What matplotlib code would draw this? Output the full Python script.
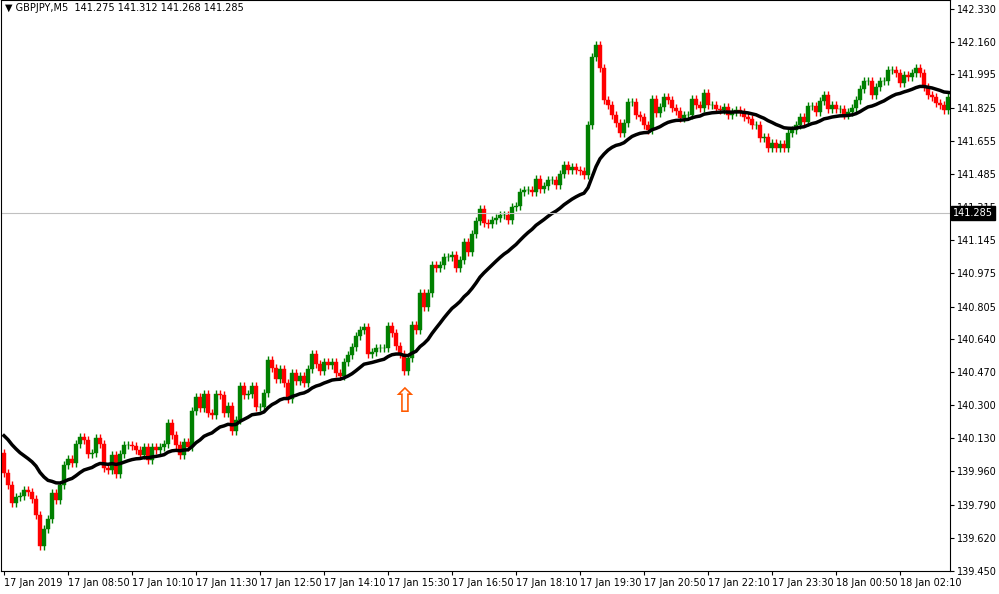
import numpy as np
import matplotlib
matplotlib.use("Agg")
import matplotlib.pyplot as plt
from matplotlib.patches import Rectangle

# GBPJPY M5 closes
closes = [
    139.952, 139.890, 139.798, 139.829, 139.834, 139.865, 139.855, 139.819, 139.737, 139.578,
    139.665, 139.716, 139.850, 139.814, 139.890, 139.993, 140.024, 140.003, 140.100, 140.136,
    140.121, 140.049, 140.054, 140.131, 140.100, 139.978, 139.967, 140.044, 139.947, 140.049,
    140.095, 140.095, 140.090, 140.070, 140.044, 140.085, 140.019, 140.085, 140.070, 140.085,
    140.100, 140.208, 140.147, 140.095, 140.044, 140.111, 140.085, 140.270, 140.341, 140.285,
    140.357, 140.259, 140.249, 140.357, 140.352, 140.259, 140.295, 140.167, 140.224, 140.398,
    140.352, 140.357, 140.398, 140.290, 140.290, 140.362, 140.531, 140.490, 140.434, 140.485,
    140.413, 140.331, 140.464, 140.423, 140.449, 140.413, 140.485, 140.562, 140.511, 140.475,
    140.521, 140.505,
    140.521, 140.464, 140.449, 140.521, 140.557, 140.598, 140.654, 140.685, 140.700, 140.562,
    140.572, 140.593, 140.593, 140.593, 140.705, 140.669, 140.603, 140.562, 140.475, 140.541,
    140.710, 140.685, 140.874, 140.803, 140.874, 141.018, 141.003, 141.018, 141.059, 141.059,
    141.069, 141.003, 141.044, 141.136, 141.085, 141.177, 141.243, 141.305, 141.233, 141.228,
    141.249, 141.259, 141.274, 141.274, 141.249, 141.315, 141.320, 141.392, 141.402, 141.402,
    141.392, 141.459, 141.407, 141.423, 141.454, 141.454, 141.428, 141.484, 141.530, 141.505,
    141.520, 141.505, 141.500, 141.479,
    141.735, 142.084, 142.145, 142.028, 141.864, 141.838, 141.787, 141.746, 141.694, 141.746,
    141.853, 141.853, 141.787, 141.776, 141.735, 141.710, 141.869, 141.797, 141.828, 141.879,
    141.864, 141.823, 141.807, 141.771, 141.787, 141.787, 141.869, 141.838, 141.823, 141.899,
    141.838, 141.838, 141.817, 141.812, 141.828, 141.787, 141.802, 141.812, 141.802, 141.776,
    141.766, 141.735, 141.735, 141.669, 141.674, 141.618, 141.643, 141.618, 141.638, 141.618,
    141.694, 141.710, 141.735, 141.776, 141.751, 141.833, 141.833, 141.802, 141.858, 141.889,
    141.817, 141.838, 141.817, 141.817, 141.787, 141.802, 141.823, 141.864, 141.920, 141.961,
    141.961, 141.889, 141.930, 141.961, 141.961, 142.017, 142.017, 142.002, 141.951, 141.992,
    141.981, 142.002, 142.028, 142.002, 141.930, 141.889, 141.879, 141.848, 141.838, 141.812,
    141.879, 141.869, 141.879,
]
first_open = 140.054
ma_start = 140.160
ma_span = 24
wick = 0.02

price_ticks = [142.330, 142.160, 141.995, 141.825, 141.655, 141.485, 141.315, 141.145, 140.975,
               140.805, 140.640, 140.470, 140.300, 140.130, 139.960, 139.790, 139.620, 139.450]
time_labels = ["17 Jan 2019", "17 Jan 08:50", "17 Jan 10:10", "17 Jan 11:30", "17 Jan 12:50",
               "17 Jan 14:10", "17 Jan 15:30", "17 Jan 16:50", "17 Jan 18:10", "17 Jan 19:30",
               "17 Jan 20:50", "17 Jan 22:10", "17 Jan 23:30", "18 Jan 00:50", "18 Jan 02:10"]
last_price = 141.285
signal_bar = 100

closes = np.array(closes)
opens = np.concatenate([[first_open], closes[:-1]])
highs = np.maximum(opens, closes) + wick
lows = np.minimum(opens, closes) - wick
n = len(closes)

ma = []
m = ma_start
a = 2 / (ma_span + 1)
for c in closes:
    m = m + a * (c - m)
    ma.append(m)

fig = plt.figure(figsize=(9.99, 5.94), dpi=100)
ax = fig.add_axes([1 / 999, 23 / 594, 949 / 999, 571 / 594])
ax.set_xlim(-0.75, -0.75 + 949 / 4)
ax.set_ylim(139.450, 142.376)

for i in range(n):
    col = "green" if closes[i] >= opens[i] else "red"
    ax.vlines(i, lows[i], highs[i], color=col, lw=1)
    b = min(opens[i], closes[i])
    h = max(abs(closes[i] - opens[i]), 0.002)
    ax.add_patch(Rectangle((i - 0.38, b), 0.76, h, color=col, lw=0.3))

ax.plot(range(n), ma, color="black", lw=2.5)
ax.axhline(last_price, color="#c0c0c0", lw=0.8)

ax.text(signal_bar, 140.40, "\u21e7", color="#ff5a00", fontsize=24, ha="center", va="top")

ax.yaxis.tick_right()
ax.set_yticks(price_ticks)
ax.set_yticklabels(["%.3f" % p for p in price_ticks], fontsize=7)
ax.tick_params(axis="y", length=3, pad=2)
ax.text(1.003, (last_price - 139.450) / (142.376 - 139.450), "%.3f" % last_price,
        transform=ax.transAxes, fontsize=7, color="white", va="center", ha="left",
        bbox=dict(facecolor="black", edgecolor="black", pad=1.5), zorder=10)

ax.set_xticks(range(0, 16 * len(time_labels), 16))
ax.set_xticklabels(time_labels, fontsize=7, ha="left")
ax.tick_params(axis="x", length=3, pad=2)
for s in ax.spines.values():
    s.set_linewidth(0.8)

ax.text(0.004, 0.995, "\u25bc GBPJPY,M5  141.275 141.312 141.268 141.285", transform=ax.transAxes,
        fontsize=7, va="top", ha="left")

fig.savefig("out.png", dpi=100)
